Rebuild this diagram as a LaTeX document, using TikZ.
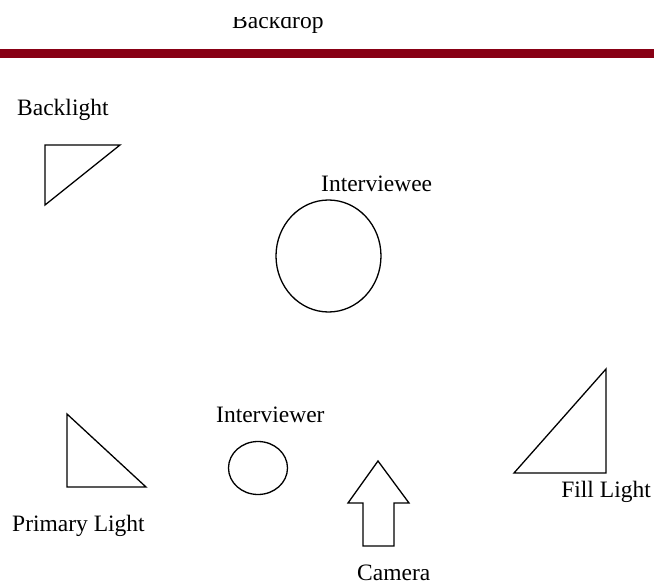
\documentclass[tikz,border=0pt]{standalone}
\usepackage{fontspec}
\setmainfont{Liberation Serif}
\usepackage{xcolor}
\usepackage{tikz}
\usetikzlibrary{positioning,calc}
\definecolor{BackdropRed}{HTML}{880015}
\tikzset{
  label/.style={anchor=base west,inner sep=0pt,font=\fontsize{23.5}{28}\selectfont},
  prop/.style={draw=black,line width=1.3pt,line join=miter},
  person/.style={draw=black,line width=1.3pt,ellipse,inner sep=0pt}
}

\begin{document}
\begin{tikzpicture}[x=1pt,y=-1pt]
  \useasboundingbox (0,0) rectangle (654,585);
  % backdrop
  \begin{scope}
    \clip (0,17.5) rectangle (654,60);
    \node[label] (backdrop) at (232,29) {Backdrop};
  \end{scope}
  \fill[BackdropRed] (0,49) rectangle (654,58);
  % lights
  \node[label] (backlight) at (17,116) {Backlight};
  \draw[prop] (45,145) -- (120,145) -- (45,205) -- cycle;
  \node[label] (primary) at (12,532) {Primary Light};
  \draw[prop] (67,414) -- (67,487) -- (146,487) -- cycle;
  \node[label,anchor=base east] (fill) at (651,498) {Fill Light};
  \draw[prop] (606,369) -- (606,473) -- (514,473) -- cycle;
  % people
  \node[label] (intee) at (321,192) {Interviewee};
  \draw[prop] (328.5,256) ellipse [x radius=52.5,y radius=56];
  \node[label] (inter) at (216,423) {Interviewer};
  \draw[prop] (258,468) ellipse [x radius=29.5,y radius=26.5];
  % camera
  \draw[prop] (378,461) -- (409,503) -- (394,503) -- (394,546)
    -- (363,546) -- (363,503) -- (348,503) -- cycle;
  \node[label] (camera) at (357,580) {Camera};
\end{tikzpicture}
\end{document}
